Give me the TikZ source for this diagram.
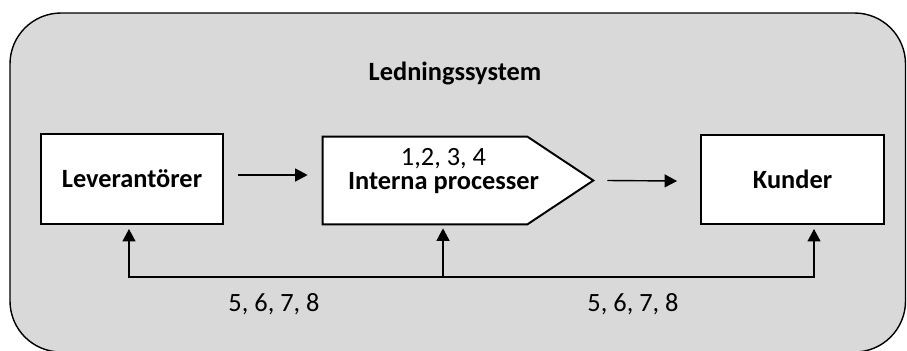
\documentclass[tikz,border=0pt]{standalone}
\usepackage{fontspec}
\setmainfont{Carlito}
\usetikzlibrary{arrows.meta}

\definecolor{panelgray}{HTML}{D9D9D9}

\tikzset{
  box/.style={draw, line width=1.1pt, fill=white},
  flow/.style={line width=0.8pt, -{Triangle[length=0.25cm, width=0.26cm]}},
  lbl/.style={anchor=base, inner sep=0pt}
}

\begin{document}
\begin{tikzpicture}[font=\fontsize{15}{18}\selectfont]
        \useasboundingbox (0,0) rectangle (18.14,7);
        \clip (0,0) rectangle (18.14,7);

        % Outer panel
        \draw[line width=0.8pt, fill=panelgray, rounded corners=1.02cm] (0.2,6.74) rectangle (18.11,-0.04);
        \node[lbl] (title) at (9.1,5.4) {\textbf{Ledningssystem}};

        % Boxes
        \node[box, minimum width=3.64cm, minimum height=1.8cm] (lev) at (2.64,3.42) {\textbf{Leverant\"orer}};
        \node[minimum width=5.4cm, minimum height=1.74cm] (int) at (9.16,3.39) {};
        \draw[box] (int.north west) -- ([xshift=-1.32cm]int.north east) -- (int.east)
              -- ([xshift=-1.32cm]int.south east) -- (int.south west) -- cycle;
        \node[inner sep=0pt, align=center, font=\fontsize{15}{14}\selectfont] (intlbl) at (8.87,3.58)
              {1,2, 3, 4\\\textbf{Interna processer}};
        \node[box, minimum width=3.66cm, minimum height=1.78cm] (kun) at (15.85,3.41) {\textbf{Kunder}};

        % Arrows
        \draw[flow] ([xshift=0.28cm,yshift=0.08cm]lev.east) -- ([xshift=-0.3cm,yshift=0.11cm]int.west);
        \draw[flow] ([xshift=0.28cm]int.east) -- ([xshift=-0.46cm,yshift=-0.03cm]kun.west);

        % Feedback
        \coordinate (fb) at (8.86,1.46);
        \draw[flow] (fb) -| ([xshift=-0.06cm,yshift=-0.08cm]lev.south);
        \draw[flow] (fb) -- ([yshift=-0.08cm]int.south -| fb);
        \draw[flow] (fb) -| ([xshift=0.43cm,yshift=-0.08cm]kun.south);
        \node[lbl] (fbl) at (5.48,0.78) {5, 6, 7, 8};
        \node[lbl] (fbr) at (12.66,0.78) {5, 6, 7, 8};
\end{tikzpicture}
\end{document}
